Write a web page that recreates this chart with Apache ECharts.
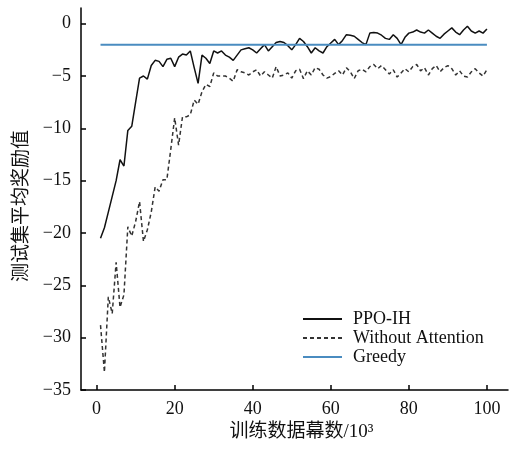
<!DOCTYPE html>
<html>
<head>
<meta charset="utf-8">
<script src="https://cdn.jsdelivr.net/npm/echarts/dist/echarts.min.js"></script>
<style>
  html, body { margin: 0; padding: 0; background: #fff; }
  #chart { width: 511px; height: 450px; }
</style>
</head>
<body>
<div id="chart"></div>
<script>
// 训练数据幕数 (×10^3) 1..100
const ppoIH = [
  -20.5, -19.5, -18.0, -16.5, -15.0, -13.0, -13.6, -10.2, -9.8, -7.5,
  -5.2, -5.0, -5.3, -4.0, -3.5, -3.6, -4.1, -3.4, -3.3, -4.1,
  -3.2, -2.9, -3.0, -2.6, -4.2, -5.7, -3.0, -3.3, -3.8, -2.6,
  -2.8, -2.6, -3.0, -3.2, -3.5, -3.0, -2.5, -2.4, -2.3, -2.5,
  -2.8, -2.4, -2.0, -2.6, -2.2, -1.8, -1.7, -1.8, -2.1, -2.5,
  -2.0, -1.4, -1.7, -2.2, -2.8, -2.3, -2.6, -2.8, -2.2, -1.85,
  -1.5, -2.0, -1.6, -1.05, -1.1, -1.2, -1.5, -1.8, -2.0, -0.9,
  -0.85, -0.9, -1.1, -1.4, -1.5, -1.05, -1.4, -2.0, -1.3, -0.9,
  -0.8, -0.6, -0.8, -0.9, -0.6, -0.9, -1.2, -1.4, -1.0, -0.7,
  -0.4, -0.8, -1.05, -0.6, -0.25, -0.7, -0.9, -0.7, -0.9, -0.5
]
const withoutAttention = [
  -28.8, -33.3, -26.1, -27.7, -22.8, -27.1, -25.9, -19.4, -20.3, -18.9,
  -17.0, -20.8, -19.7, -18.0, -15.6, -16.0, -14.9, -14.9, -12.0, -9.0,
  -11.6, -8.9, -8.9, -8.7, -7.3, -7.7, -6.5, -5.8, -6.0, -4.7,
  -5.0, -5.0, -5.0, -5.2, -5.5, -4.4, -4.6, -4.7, -4.9, -4.6,
  -4.4, -5.0, -4.6, -4.9, -5.2, -4.1, -5.0, -4.9, -4.7, -5.2,
  -4.5, -4.35, -5.25, -4.5, -4.9, -4.2, -4.35, -4.9, -5.2, -5.05,
  -4.75, -4.5, -4.9, -4.2, -4.6, -5.25, -4.5, -4.35, -4.6, -4.1,
  -3.9, -4.3, -4.0, -4.4, -4.8, -4.4, -5.1, -4.7, -4.3, -4.6,
  -4.1, -3.9, -4.5, -4.2, -4.9, -4.3, -4.0, -4.6, -4.2, -4.0,
  -4.3, -4.9, -4.5, -5.0, -5.1, -4.6, -4.3, -4.7, -5.0, -4.4
]
const greedy = [[1, -2], [100, -2]]
const xTicks = [0, 20, 40, 60, 80, 100]
const yTicks = [-35, -30, -25, -20, -15, -10, -5, 0]

const serif = '"Liberation Serif", "DejaVu Serif", serif'
const cjk = '"Liberation Serif", "Noto Sans CJK SC", serif'

const chart = echarts.init(document.getElementById('chart'))
const option = {
  animation: false,
  grid: { left: 81, right: 3, top: 8, bottom: 60 },
  legend: {
    orient: 'vertical',
    left: 297,
    top: 305,
    itemWidth: 39,
    itemHeight: 14,
    itemGap: 1,
    data: ['PPO-IH', 'Without Attention', 'Greedy'],
    itemStyle: { opacity: 0, borderWidth: 0 },
    textStyle: { fontFamily: serif, fontSize: 18, color: '#111', padding: [0, 0, 0, 6] }
  },
  xAxis: {
    type: 'value',
    min: -4,
    max: 105.4,
    name: '训练数据幕数/10³',
    nameLocation: 'middle',
    nameGap: 31,
    nameTextStyle: { fontFamily: cjk, fontSize: 19, color: '#111', padding: [0, 0, 0, 14] },
    axisLine: { onZero: false, lineStyle: { color: '#000', width: 1.5 } },
    axisTick: { inside: true, length: 5, customValues: xTicks, lineStyle: { color: '#000', width: 1.5 } },
    axisLabel: { customValues: xTicks, margin: 10, fontFamily: serif, fontSize: 18, color: '#111' },
    splitLine: { show: false }
  },
  yAxis: {
    type: 'value',
    min: -35,
    max: 1.5,
    name: '测试集平均奖励值',
    nameLocation: 'middle',
    nameGap: 46,
    nameTextStyle: { fontFamily: cjk, fontSize: 19, color: '#111', padding: [0, 14, 0, 0] },
    axisLine: { onZero: false, lineStyle: { color: '#000', width: 1.5 } },
    axisTick: { inside: true, length: 5, customValues: yTicks, lineStyle: { color: '#000', width: 1.5 } },
    axisLabel: {
      customValues: yTicks,
      margin: 10,
      fontFamily: serif,
      fontSize: 18,
      color: '#111',
      formatter: v => String(v).replace('-', '\u2212')
    },
    splitLine: { show: false }
  },
  series: [
    {
      name: 'PPO-IH',
      type: 'line',
      symbol: 'none',
      data: ppoIH.map((v, i) => [i + 1, v]),
      itemStyle: { color: '#111' },
      lineStyle: { color: '#111', width: 1.5 },
      z: 3
    },
    {
      name: 'Without Attention',
      type: 'line',
      symbol: 'none',
      data: withoutAttention.map((v, i) => [i + 1, v]),
      itemStyle: { color: '#333' },
      lineStyle: { color: '#333', width: 1.5, type: [4, 3] },
      z: 2
    },
    {
      name: 'Greedy',
      type: 'line',
      symbol: 'none',
      data: greedy,
      itemStyle: { color: '#4a8cc0' },
      lineStyle: { color: '#4a8cc0', width: 2 },
      z: 4
    }
  ]
}
chart.setOption(option)
</script>
</body>
</html>
